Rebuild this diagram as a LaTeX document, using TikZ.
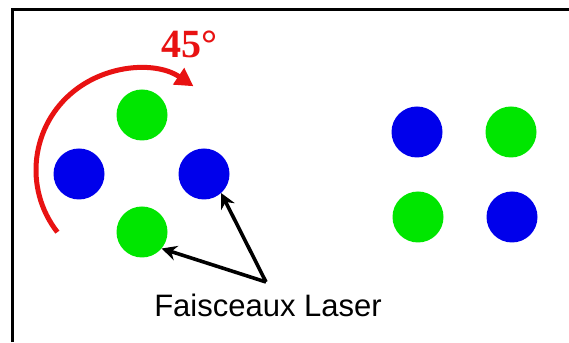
\documentclass[tikz,border=0pt]{standalone}
\usepackage{fontspec}
\setmainfont{Liberation Sans}
\newfontfamily\seriffont{Liberation Serif}
\usetikzlibrary{arrows.meta}
\definecolor{beamgreen}{RGB}{0,230,0}
\definecolor{beamblue}{RGB}{0,0,235}
\definecolor{turnred}{RGB}{232,18,18}
\begin{document}
\begin{tikzpicture}[x=1pt,y=1pt,
  beam/.style={circle,minimum size=51pt,inner sep=0pt},
  pointer/.style={line width=3.6pt,-{Stealth[length=15pt,width=15pt,inset=5pt]}}]
  \useasboundingbox (0,0) rectangle (569,342);
  \draw[line width=3pt] (12,0) -- (12,332) -- (569,332);
  \foreach \n/\x/\y/\c in {g1/142/227/beamgreen,b1/79/168/beamblue,b2/204/168/beamblue,g2/142/110/beamgreen,
    b3/417/210/beamblue,g3/511/210/beamgreen,g4/418/125/beamgreen,b4/512/125/beamblue}
    \node[beam,fill=\c] (\n) at (\x,\y) {};
  \draw[turnred,line width=5pt,-{Triangle[length=18pt,width=19pt]}] (137,172) ++(218:101) arc[start angle=218,end angle=56,radius=101];
  \node[turnred,font=\seriffont\bfseries\fontsize{40}{44}\selectfont] (angle) at (189,298) {45°};
  \node[font=\fontsize{31}{36}\selectfont] (label) at (268,37) {Faisceaux Laser};
  \coordinate (split) at (266,60);
  \draw[pointer] (split) -- (g2.-40);
  \draw[pointer] (split) -- (b2.-48);
\end{tikzpicture}
\end{document}
